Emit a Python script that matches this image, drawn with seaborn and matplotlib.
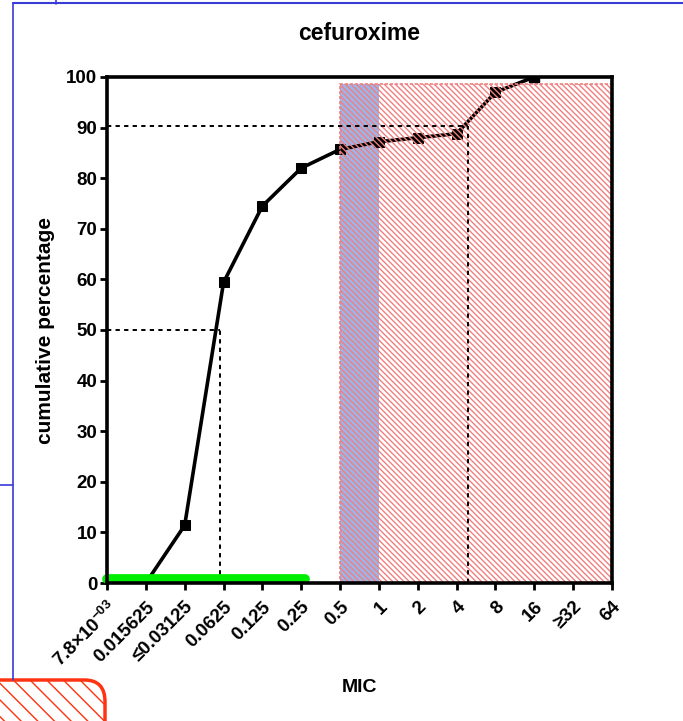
import numpy as np
import pandas as pd
import matplotlib
matplotlib.use("Agg")
import matplotlib.pyplot as plt
from matplotlib.patches import Rectangle, FancyBboxPatch
from matplotlib.lines import Line2D
import seaborn as sns

# MIC dilution steps (categorical x positions)
mic_labels = ["7.8×10$^{\\mathbf{-03}}$", "0.015625", "≤0.03125", "0.0625", "0.125", "0.25",
              "0.5", "1", "2", "4", "8", "16", "≥32", "64"]
# cumulative percentage of isolates, starting at the 0.015625 step
cum_pos = [1, 2, 3, 4, 5, 6, 7, 8, 9, 10, 11]
cum_pct = [0.0, 11.4, 59.4, 74.5, 82.0, 85.7, 87.2, 88.0, 88.8, 97.0, 100.0]

# MIC50 / MIC90 reference lines (x position on the dilution axis, y percentage)
mic50 = (2.9, 50.0)
mic90 = (9.3, 90.3)

# intermediate (blue) and resistant (hatched red) zones, as dilution positions
intermediate_zone = (6, 7)
resistant_zone = (6, 13)
zone_top = 98.6

# wild-type range bar
wt_range = (0, 5.1)
wt_level = 0.8

sns.set_theme(style="white")
plt.rcParams["font.family"] = ["Liberation Sans", "DejaVu Sans"]
plt.rcParams["mathtext.fontset"] = "custom"
plt.rcParams["mathtext.bf"] = "Liberation Sans:bold"
plt.rcParams["mathtext.rm"] = "Liberation Sans"
plt.rcParams["hatch.linewidth"] = 1.0
for key in ("text.color", "axes.labelcolor", "xtick.color", "ytick.color"):
    plt.rcParams[key] = "black"

fig = plt.figure(figsize=(6.83, 7.21), dpi=100)
ax = fig.add_axes([107 / 683, 1 - 583 / 721, (612 - 107) / 683, (583 - 77) / 721])

df = pd.DataFrame({"pos": cum_pos, "pct": cum_pct})

# zones
ax.add_patch(Rectangle((intermediate_zone[0], 0), intermediate_zone[1] - intermediate_zone[0],
                       zone_top, facecolor="#9bb5ea", edgecolor="none", zorder=1))
sns.lineplot(data=df, x="pos", y="pct", ax=ax, color="black", linewidth=2.6,
             marker="s", markersize=7, markeredgecolor="black", zorder=2)
plt.rcParams["hatch.color"] = "#f08080"
ax.add_patch(Rectangle((resistant_zone[0], 0), resistant_zone[1] - resistant_zone[0],
                       zone_top, facecolor="none", edgecolor="#f08080", hatch="\\\\\\\\\\\\",
                       linewidth=1.2, linestyle=(0, (2, 1)), zorder=3))
# redraw the top point, which lies above the zones
ax.plot(cum_pos[-1], cum_pct[-1], marker="s", markersize=7, color="black", zorder=5)

# MIC50 / MIC90 guides
for xv, yv in (mic50, mic90):
    ax.plot([0, xv], [yv, yv], color="black", linestyle=(0, (2.2, 2.2)), linewidth=1.4, zorder=4)
    ax.plot([xv, xv], [0, yv], color="black", linestyle=(0, (2.2, 2.2)), linewidth=1.4, zorder=4)

# wild-type range bar
ax.plot(list(wt_range), [wt_level, wt_level], color="#00ee00", linewidth=7,
        solid_capstyle="round", zorder=6, clip_on=False)

ax.set_xlim(0, 13)
ax.set_ylim(0, 100)
ax.set_xticks(range(len(mic_labels)))
ax.set_xticklabels(mic_labels, rotation=45, ha="right", rotation_mode="anchor",
                   fontsize=13.5, fontweight="bold")
ax.set_yticks(range(0, 101, 10))
ax.set_yticklabels([str(v) for v in range(0, 101, 10)], fontsize=13.5, fontweight="bold")
ax.tick_params(axis="both", direction="out", length=5, width=2, color="black",
               bottom=True, left=True, pad=2)
ax.tick_params(axis="x", pad=6)
for s in ax.spines.values():
    s.set_linewidth(2.6)
    s.set_color("black")
    s.set_zorder(7)
ax.set_xlabel("MIC", fontsize=14, fontweight="bold", labelpad=6)
ax.set_ylabel("cumulative percentage", fontsize=15, fontweight="bold", labelpad=8)
ax.set_title("cefuroxime", fontsize=16.5, fontweight="bold", pad=27)

# surrounding page frame
fig.add_artist(Line2D([13 / 683, 13 / 683], [1 - 3 / 721, 1 - 680 / 721],
                      color="#3a3ad8", linewidth=1.2))
fig.add_artist(Line2D([13 / 683, 1], [1 - 3 / 721, 1 - 3 / 721], color="#3a3ad8", linewidth=1.5))
fig.add_artist(Line2D([0, 13 / 683], [1 - 485 / 721, 1 - 485 / 721], color="#3a3ad8", linewidth=1.2))
fig.add_artist(Line2D([56 / 683, 56 / 683], [1, 1 - 4 / 721], color="#3a3ad8", linewidth=1.2))
fig.add_artist(FancyBboxPatch((-20 / 683, -0.05), 125 / 683, (41 / 721) + 0.05,
                              boxstyle="round,pad=0,rounding_size=0.03",
                              facecolor="white", edgecolor="#ff3311", linewidth=2.5,
                              hatch="\\\\", transform=fig.transFigure))

fig.savefig("out.png", dpi=100)
